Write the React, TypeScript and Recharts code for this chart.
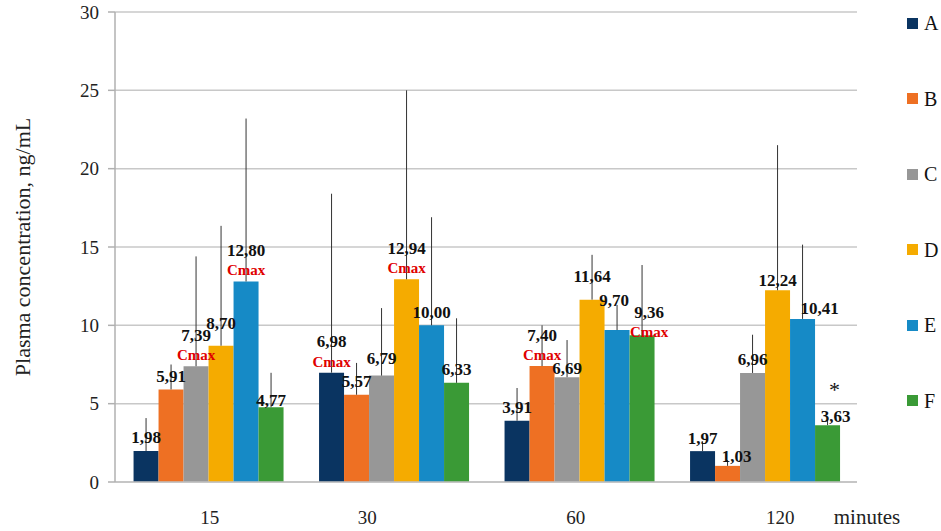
import React from 'react';
import { BarChart, Bar, XAxis, YAxis, CartesianGrid, Legend, ErrorBar, LabelList, Label } from 'recharts';

const categories = ['15', '30', '60', '120'];
const seriesNames = ['A', 'B', 'C', 'D', 'E', 'F'];
const seriesColors = ['#0a3461', '#ee7023', '#979797', '#f5ab00', '#168ac6', '#3a9a36'];

const valuesA = [1.98, 6.98, 3.91, 1.97];
const valuesB = [5.91, 5.57, 7.4, 1.03];
const valuesC = [7.39, 6.79, 6.69, 6.96];
const valuesD = [8.7, 12.94, 11.64, 12.24];
const valuesE = [12.8, 10.0, 9.7, 10.41];
const valuesF = [4.77, 6.33, 9.36, 3.63];

// upper error (SD)
const errA = [2.1, 11.42, 2.09, 0.63];
const errB = [1.59, 2.03, 2.6, 0.37];
const errC = [7.01, 4.31, 2.37, 2.44];
const errD = [7.65, 12.06, 2.86, 9.26];
const errE = [10.4, 6.9, 1.6, 4.74];
const errF = [2.2, 4.12, 4.49, 0.47];

const marksF = ['', '', '', '*'];
const yTicks = [0, 5, 10, 15, 20, 25, 30];

const allValues = [valuesA, valuesB, valuesC, valuesD, valuesE, valuesF];
const allErrors = [errA, errB, errC, errD, errE, errF];
const allMarks: string[][] = [[], [], [], [], [], marksF];

// small hand nudges of value labels and tick labels (as in the original layout)
const labelNudges: { s: number; i: number; dx: number; dy: number }[] = [
  { s: 3, i: 0, dx: 0, dy: -9 },
  { s: 5, i: 0, dx: 0, dy: 6 },
  { s: 2, i: 1, dx: 0, dy: -4 },
  { s: 2, i: 2, dx: 0, dy: 4 },
  { s: 3, i: 2, dx: 0, dy: -10 },
  { s: 4, i: 2, dx: -3, dy: -17 },
  { s: 5, i: 2, dx: 7, dy: 8 },
  { s: 1, i: 3, dx: 9, dy: 4 },
  { s: 3, i: 3, dx: 0, dy: 3 },
  { s: 4, i: 3, dx: 17, dy: 3 },
  { s: 5, i: 3, dx: 8, dy: 4 },
];
const tickNudges = [2, -26, -3, 16];

const data = categories.map((c, i) => {
  const row: any = { time: c };
  seriesNames.forEach((s, k) => {
    row[s] = allValues[k][i];
    row[s + '_err'] = [0, allErrors[k][i]];
  });
  return row;
});

const SERIF = '"Liberation Serif", "Times New Roman", serif';

const fmt = (v: number) => v.toFixed(2).replace('.', ',');

const makeLabel = (k: number) => (props: any) => {
  const { x, y, width, value, index } = props;
  const cx = Number(x) + Number(width) / 2;
  const top = Number(y);
  const vals = allValues[k];
  const isMax = value === Math.max(...vals);
  const mark = allMarks[k][index];
  const n = labelNudges.find((q) => q.s === k && q.i === index);
  const dx = n ? n.dx : 0;
  const dy = n ? n.dy : 0;
  return (
    <g>
      <text
        x={cx + dx}
        y={(isMax ? top - 31 : top - 13) + dy}
        textAnchor="middle"
        dominantBaseline="central"
        fontFamily={SERIF}
        fontWeight="bold"
        fontSize={17}
        fill="#111"
      >
        {fmt(Number(value))}
      </text>
      {isMax && (
        <text
          x={cx + dx}
          y={top - 11 + dy}
          textAnchor="middle"
          dominantBaseline="central"
          fontFamily={SERIF}
          fontWeight="bold"
          fontSize={15}
          fill="#e00000"
        >
          Cmax
        </text>
      )}
      {mark && (
        <text
          x={cx + 7}
          y={top - 36}
          textAnchor="middle"
          dominantBaseline="central"
          fontFamily={SERIF}
          fontSize={22}
          fill="#111"
        >
          {mark}
        </text>
      )}
    </g>
  );
};

const XTick = (props: any) => {
  const { x, y, payload, index } = props;
  return (
    <text
      x={Number(x) + (tickNudges[index] || 0)}
      y={Number(y)}
      dy="0.71em"
      textAnchor="middle"
      fontFamily={SERIF}
      fontSize={19}
      fill="#222"
    >
      {payload.value}
    </text>
  );
};

const renderLegend = (props: any) => {
  const payload = props.payload || [];
  return (
    <div style={{ fontFamily: SERIF }}>
      {payload.map((p: any) => (
        <div
          key={p.value}
          style={{ height: 20, marginBottom: 55.6, display: 'flex', alignItems: 'center' }}
        >
          <div style={{ width: 11, height: 11, background: p.color, marginRight: 6 }} />
          <span style={{ fontSize: 20, color: '#111', lineHeight: '20px' }}>{p.value}</span>
        </div>
      ))}
    </div>
  );
};

export default function App() {
  return (
    <div style={{ position: 'absolute', left: 0, top: 0, width: 941, height: 531, background: '#fff' }}>
      <BarChart
        width={941}
        height={531}
        data={data}
        margin={{ top: 12, right: 84, left: 0, bottom: 19 }}
        barCategoryGap="10%"
        barGap={0}
      >
        <CartesianGrid vertical={false} stroke="#c8c8c8" strokeWidth={1.5} />
        <XAxis
          dataKey="time"
          height={30}
          tickLine={false}
          axisLine={{ stroke: '#c0c0c0', strokeWidth: 1.5 }}
          tick={<XTick />}
          tickMargin={23}
        >
          <Label
            content={(p: any) => {
              const vb = p.viewBox || {};
              return (
                <text
                  x={867}
                  y={vb.y + 35}
                  textAnchor="middle"
                  dominantBaseline="central"
                  fontFamily={SERIF}
                  fontSize={21}
                  fill="#222"
                >
                  minutes
                </text>
              );
            }}
          />
        </XAxis>
        <YAxis
          width={115}
          domain={[0, 30]}
          ticks={yTicks}
          interval={0}
          axisLine={{ stroke: '#b0b0b0', strokeWidth: 1.5 }}
          tickLine={{ stroke: '#b0b0b0', strokeWidth: 1.5 }}
          tickSize={7}
          tickMargin={9}
          tick={{ fontFamily: SERIF, fontSize: 19, fill: '#222' }}
        >
          <Label
            content={() => (
              <text
                x={22}
                y={247}
                textAnchor="middle"
                dominantBaseline="central"
                transform="rotate(-90, 22, 247)"
                fontFamily={SERIF}
                fontSize={22}
                fill="#222"
              >
                Plasma concentration, ng/mL
              </text>
            )}
          />
        </YAxis>
        <Legend
          layout="vertical"
          align="center"
          verticalAlign="middle"
          content={renderLegend}
          wrapperStyle={{ left: 907, top: 13, width: 34, height: 470 }}
        />
        {seriesNames.map((s, k) => (
          <Bar key={s} dataKey={s} name={s} fill={seriesColors[k]} isAnimationActive={false}>
            <ErrorBar
              dataKey={s + '_err'}
              width={0}
              stroke="#333"
              strokeWidth={1}
              direction="y"
              isAnimationActive={false}
            />
            <LabelList dataKey={s} content={makeLabel(k)} />
          </Bar>
        ))}
      </BarChart>
    </div>
  );
}
